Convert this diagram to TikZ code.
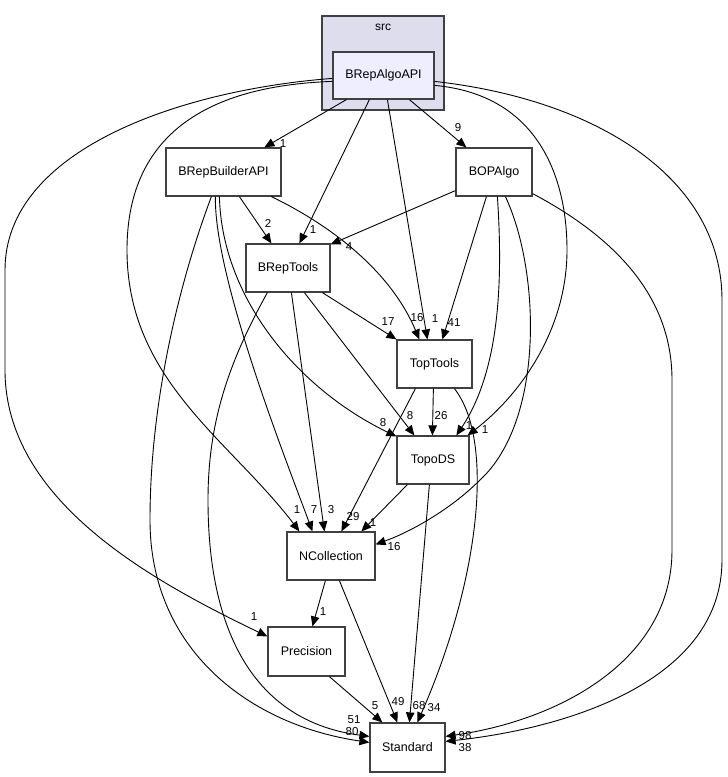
\documentclass[tikz,border=0pt]{standalone}
\usepackage{fontspec}
\setmainfont{Liberation Sans}
\usetikzlibrary{arrows.meta}
\definecolor{clusterfill}{HTML}{DDDDEE}
\definecolor{nodefill}{HTML}{EEEEFF}
\definecolor{boxgray}{HTML}{404040}
\tikzset{
  box/.style={draw=boxgray,line width=1.2pt,fill=white,inner sep=0pt,font=\fontsize{12.5}{14}\selectfont},
  dep/.style={draw=black,line width=0.9pt,-{Triangle[length=10pt,width=8.5pt]}},
  lbl/.style={inner sep=0pt,font=\fontsize{11.5}{13}\selectfont},
}
\begin{document}
\begin{tikzpicture}[x=1pt,y=-1pt]
\useasboundingbox[fill=white] (0,0) rectangle (728,777);
% cluster
\node[draw=boxgray,line width=1.2pt,fill=clusterfill,minimum width=122pt,minimum height=94pt,inner sep=0pt] (src) at (383,63) {};
\node[lbl,font=\fontsize{12}{14}\selectfont] (srclabel) at (383,27) {src};
% nodes
\node[box,fill=nodefill,minimum width=101pt,minimum height=47pt] (algo) at (383.5,75.5) {BRepAlgoAPI};
\node[box,minimum width=115pt,minimum height=48pt] (bb) at (223.5,172) {BRepBuilderAPI};
\node[box,minimum width=76pt,minimum height=48pt] (bo) at (494,172) {BOPAlgo};
\node[box,minimum width=84pt,minimum height=48pt] (bt) at (288,268) {BRepTools};
\node[box,minimum width=75pt,minimum height=48pt] (tt) at (434.5,364) {TopTools};
\node[box,minimum width=72pt,minimum height=48pt] (td) at (433,460) {TopoDS};
\node[box,minimum width=88pt,minimum height=48pt] (nc) at (331,556) {NCollection};
\node[box,minimum width=77pt,minimum height=49pt] (pr) at (306.5,651.5) {Precision};
\node[box,minimum width=75pt,minimum height=49pt] (st) at (407.5,747.5) {Standard};
% BRepAlgoAPI edges
\draw[dep] ([xshift=14pt]algo.south west) -- ([xshift=99pt]bb.north west);
\draw[dep] ([xshift=77pt]algo.south west) -- ([xshift=11pt]bo.north west);
\draw[dep] ([xshift=37pt]algo.south west) -- ([xshift=54pt]bt.north west);
\draw[dep] ([xshift=55pt]algo.south west) -- ([xshift=31pt]tt.north west);
\draw[dep] ([yshift=-34pt]algo.north east) .. controls (540,95) and (567,180) .. (567,250) .. controls (567,330) and (520,395) .. ([xshift=-2pt]td.north east);
\draw[dep] ([yshift=-30pt]algo.north west) .. controls (200,86) and (127,140) .. (127,250) .. controls (127,380) and (230,440) .. ([xshift=13pt]nc.north west);
\draw[dep] ([yshift=-27pt]algo.north west) .. controls (180,90) and (5,150) .. (5,270) -- (5,370) .. controls (5,500) and (150,580) .. ([yshift=-10pt]pr.north west);
\draw[dep] ([yshift=-30pt]algo.north east) .. controls (600,100) and (722,180) .. (722,300) -- (722,560) .. controls (722,680) and (570,728) .. ([yshift=-19pt]st.north east);
% BRepBuilderAPI edges
\draw[dep] ([xshift=74pt]bb.south west) -- ([xshift=26pt]bt.north west);
\draw[dep] ([xshift=106pt]bb.south west) .. controls (330,225) and (390,270) .. ([xshift=23pt]tt.north west);
\draw[dep] ([xshift=54pt]bb.south west) .. controls (222,300) and (300,390) .. ([yshift=-1pt]td.north west);
\draw[dep] ([xshift=50pt]bb.south west) .. controls (214,280) and (290,470) .. ([xshift=26pt]nc.north west);
\draw[dep] ([xshift=46pt]bb.south west) .. controls (180,280) and (150,400) .. (150,520) .. controls (150,650) and (250,725) .. ([yshift=-20pt]st.north west);
% BOPAlgo edges
\draw[dep] ([yshift=6pt]bo.south west) -- ([yshift=-1pt]bt.north east);
\draw[dep] ([xshift=31pt]bo.south west) -- ([xshift=46pt]tt.north west);
\draw[dep] ([xshift=42pt]bo.south west) .. controls (503,280) and (500,370) .. ([xshift=60pt]td.north west);
\draw[dep] ([xshift=50pt]bo.south west) .. controls (540,270) and (545,420) .. (480,480) .. controls (450,510) and (410,532) .. ([yshift=-13pt]nc.north east);
\draw[dep] ([yshift=3pt]bo.south east) .. controls (620,240) and (672,300) .. (672,380) -- (672,550) .. controls (672,660) and (560,720) .. ([yshift=-14pt]st.north east);
% BRepTools edges
\draw[dep] ([xshift=77pt]bt.south west) -- (tt.north west);
\draw[dep] ([xshift=59pt]bt.south west) -- ([xshift=18pt]td.north west);
\draw[dep] ([xshift=46pt]bt.south west) -- ([xshift=38pt]nc.north west);
\draw[dep] ([xshift=22pt]bt.south west) .. controls (230,360) and (208,420) .. (208,500) .. controls (208,640) and (260,722) .. ([yshift=-14pt]st.north west);
% TopTools edges
\draw[dep] ([xshift=37pt]tt.south west) -- ([xshift=36pt]td.north west);
\draw[dep] ([xshift=19pt]tt.south west) -- ([xshift=55pt]nc.north west);
\draw[dep] ([xshift=58pt]tt.south west) .. controls (495,440) and (480,580) .. ([xshift=48pt]st.north west);
% TopoDS edges
\draw[dep] ([xshift=11pt]td.south west) -- ([xshift=75pt]nc.north west);
\draw[dep] ([xshift=33pt]td.south west) -- ([xshift=40pt]st.north west);
% NCollection edges
\draw[dep] ([xshift=39pt]nc.south west) -- ([xshift=45pt]pr.north west);
\draw[dep] ([xshift=53pt]nc.south west) -- ([xshift=28pt]st.north west);
% Precision edge
\draw[dep] ([xshift=62pt]pr.south west) -- ([xshift=13pt]st.north west);
% labels
\node[lbl] (l1) at (283,144) {1};
\node[lbl] (l2) at (458,128) {9};
\node[lbl] (l3) at (313,230) {1};
\node[lbl] (l4) at (435,319) {1};
\node[lbl] (l5) at (485,430) {1};
\node[lbl] (l6) at (297,510) {1};
\node[lbl] (l7) at (254,617) {1};
\node[lbl] (l8) at (465,748) {38};
\node[lbl] (l9) at (268,223) {2};
\node[lbl] (l10) at (417,318) {16};
\node[lbl] (l11) at (383,423) {8};
\node[lbl] (l12) at (314,510) {7};
\node[lbl] (l13) at (352,732) {80};
\node[lbl] (l14) at (349,247) {4};
\node[lbl] (l15) at (454,323) {41};
\node[lbl] (l16) at (469,426) {1};
\node[lbl] (l17) at (394,547) {16};
\node[lbl] (l18) at (465,736) {98};
\node[lbl] (l19) at (388,322) {17};
\node[lbl] (l20) at (410,416) {8};
\node[lbl] (l21) at (331,510) {3};
\node[lbl] (l22) at (354,720) {51};
\node[lbl] (l23) at (441,416) {26};
\node[lbl] (l24) at (353,517) {29};
\node[lbl] (l25) at (434,708) {34};
\node[lbl] (l26) at (373,523) {1};
\node[lbl] (l27) at (419,706) {68};
\node[lbl] (l28) at (323,612) {1};
\node[lbl] (l29) at (398,702) {49};
\node[lbl] (l30) at (375,706) {5};
\end{tikzpicture}
\end{document}
